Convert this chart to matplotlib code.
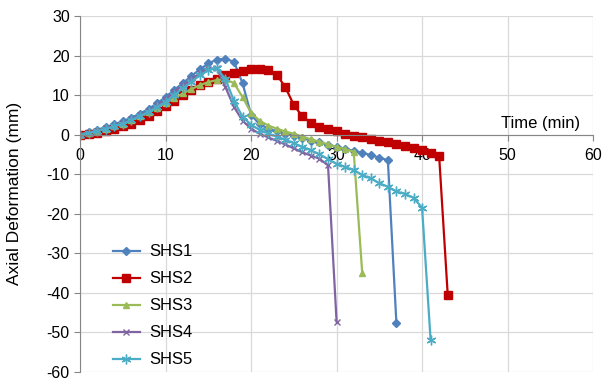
import matplotlib.pyplot as plt
import numpy as np

plt.rcParams['font.family'] = ['Liberation Sans', 'DejaVu Sans']
plt.rcParams['axes.unicode_minus'] = False

# Datos (tiempo en min, deformacion axial en mm)
t_shs1 = list(range(0, 38))
d_shs1 = [0, 0.6, 1.2, 1.9, 2.6, 3.4, 4.3, 5.3, 6.5, 7.9, 9.5, 11.3, 13.0, 14.8, 16.5,
          18.0, 19.0, 19.2, 18.4, 13.0, 5.0, 2.6, 1.5, 0.8, 0.2, -0.3, -0.9, -1.5, -2.0,
          -2.6, -3.1, -3.6, -4.1, -4.6, -5.2, -5.8, -6.5, -47.8]

t_shs2 = list(range(0, 44))
d_shs2 = [0, 0.2, 0.5, 1.0, 1.5, 2.1, 2.8, 3.6, 4.6, 5.9, 7.3, 8.6, 10.0, 11.3, 12.5,
          13.3, 14.0, 15.0, 15.7, 16.2, 16.5, 16.5, 16.3, 15.2, 12.0, 7.5, 4.6, 3.0, 2.0,
          1.3, 0.9, 0.2, -0.3, -0.7, -1.2, -1.5, -2.0, -2.4, -2.9, -3.4, -4.0, -4.7,
          -5.5, -40.5]

t_shs3 = list(range(0, 34))
d_shs3 = [0, 0.4, 0.9, 1.5, 2.1, 2.8, 3.6, 4.6, 5.6, 6.8, 8.0, 9.2, 10.4, 11.5, 12.5,
          13.3, 13.8, 14.0, 13.0, 9.5, 5.5, 3.5, 2.3, 1.5, 0.8, 0.2, -0.5, -1.2, -1.8,
          -2.5, -3.1, -3.7, -4.3, -35.0]

t_shs4 = list(range(0, 31))
d_shs4 = [0, 0.5, 1.0, 1.6, 2.3, 3.0, 3.9, 4.9, 6.0, 7.4, 9.0, 10.8, 12.5, 14.0, 15.5,
          16.6, 16.8, 12.0, 7.0, 3.5, 1.5, 0.2, -0.7, -1.6, -2.5, -3.5, -4.5, -5.3,
          -6.1, -7.8, -47.3]

t_shs5 = list(range(0, 42))
d_shs5 = [0, 0.4, 0.9, 1.5, 2.1, 2.8, 3.7, 4.7, 5.8, 7.0, 8.3, 10.0, 11.7, 13.3, 15.0,
          16.3, 16.8, 14.0, 8.5, 4.5, 2.5, 1.2, 0.3, -0.5, -1.3, -2.2, -3.1, -4.0, -5.0,
          -6.2, -7.4, -8.2, -9.0, -10.2, -11.1, -12.3, -13.2, -14.4, -15.0, -16.0,
          -18.5, -52.0]

fig = plt.figure(figsize=(6.07, 3.82), dpi=100)
ax = fig.add_axes([0.132, 0.027, 0.845, 0.931])

ax.plot(t_shs1, d_shs1, color='#4F81BD', marker='D', markersize=4, linewidth=1.6, label='SHS1')
ax.plot(t_shs2, d_shs2, color='#C00000', marker='s', markersize=6, linewidth=1.6, label='SHS2')
ax.plot(t_shs3, d_shs3, color='#9BBB59', marker='^', markersize=5, linewidth=1.6, label='SHS3')
ax.plot(t_shs4, d_shs4, color='#8064A2', marker='x', markersize=4.5, markeredgewidth=1.0,
        linewidth=1.6, label='SHS4')
ax.plot(t_shs5, d_shs5, color='#4BACC6', marker=(6, 2, 0), markersize=7, markeredgewidth=1.0,
        linewidth=1.6, label='SHS5')

ax.set_xlim(0, 60)
ax.set_ylim(-60, 30)
ax.set_xticks(np.arange(0, 61, 10))
ax.set_yticks(np.arange(-60, 31, 10))
ax.grid(True, color='#D9D9D9', linewidth=0.9)
ax.set_axisbelow(True)

# eje x cruzando en y = 0
ax.spines['bottom'].set_position(('data', 0))
ax.spines['bottom'].set_color('#868686')
ax.spines['left'].set_color('#868686')
ax.spines['top'].set_visible(False)
ax.spines['right'].set_visible(False)
ax.tick_params(axis='both', colors='#868686', labelcolor='black', labelsize=11.5, length=4)
ax.tick_params(axis='x', pad=6)

ax.set_xlabel('Time (min)', fontsize=12)
ax.xaxis.set_label_coords(0.897, 0.72)
ax.set_ylabel('Axial Deformation (mm)', fontsize=12.5)
ax.yaxis.set_label_coords(-0.113, 0.5)

ax.legend(loc='lower left', bbox_to_anchor=(0.035, -0.03), frameon=False, fontsize=12,
          handlelength=1.6, handletextpad=0.6, labelspacing=0.72)

fig.savefig('out.png', dpi=100)
